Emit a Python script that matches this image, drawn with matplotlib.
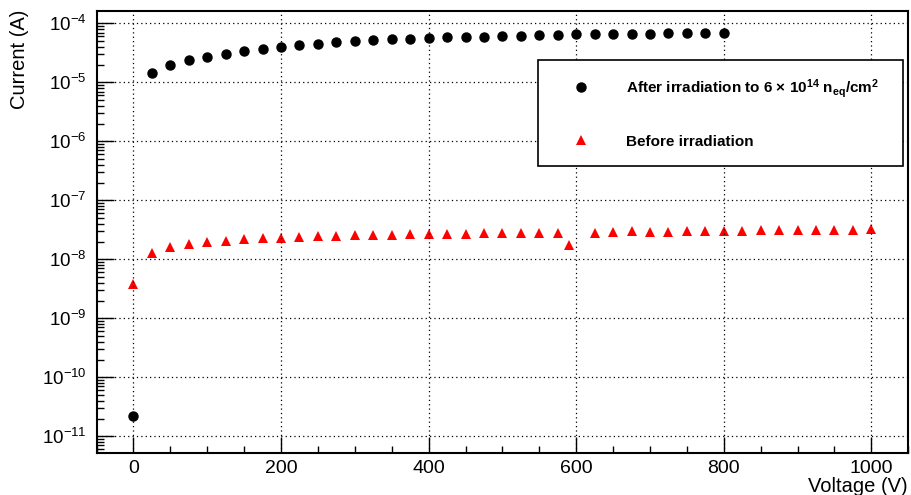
import matplotlib
matplotlib.use("Agg")
import matplotlib.pyplot as plt
from matplotlib.ticker import LogLocator, MultipleLocator, NullFormatter

plt.rcParams['font.family'] = ['Liberation Sans', 'DejaVu Sans']
plt.rcParams['mathtext.default'] = 'regular'
plt.rcParams['axes.unicode_minus'] = True

# After irradiation (black circles)
v_after = [0, 25, 50, 75, 100, 125, 150, 175, 200, 225, 250, 275, 300, 325, 350,
           375, 400, 425, 450, 475, 500, 525, 550, 575, 600, 625, 650, 675, 700,
           725, 750, 775, 800]
i_after = [2.2e-11, 1.42e-5, 1.96e-5, 2.36e-5, 2.69e-5, 3.05e-5, 3.35e-5, 3.67e-5,
           3.96e-5, 4.29e-5, 4.46e-5, 4.76e-5, 5.0e-5, 5.14e-5, 5.36e-5, 5.5e-5,
           5.63e-5, 5.79e-5, 5.86e-5, 5.93e-5, 6.1e-5, 6.2e-5, 6.3e-5, 6.4e-5,
           6.5e-5, 6.55e-5, 6.6e-5, 6.65e-5, 6.7e-5, 6.75e-5, 6.8e-5, 6.9e-5, 7.0e-5]

# Before irradiation (red triangles)
v_before = [0, 25, 50, 75, 100, 125, 150, 175, 200, 225, 250, 275, 300, 325, 350,
            375, 400, 425, 450, 475, 500, 525, 550, 575, 590, 625, 650, 675, 700,
            725, 750, 775, 800, 825, 850, 875, 900, 925, 950, 975, 1000]
i_before = [3.8e-9, 1.29e-8, 1.6e-8, 1.79e-8, 1.94e-8, 2.07e-8, 2.2e-8, 2.27e-8,
            2.32e-8, 2.42e-8, 2.48e-8, 2.52e-8, 2.55e-8, 2.58e-8, 2.62e-8, 2.65e-8,
            2.7e-8, 2.7e-8, 2.73e-8, 2.76e-8, 2.77e-8, 2.78e-8, 2.8e-8, 2.82e-8,
            1.75e-8, 2.83e-8, 2.9e-8, 3.05e-8, 2.9e-8, 2.94e-8, 2.98e-8, 3.01e-8,
            3.05e-8, 3.05e-8, 3.09e-8, 3.09e-8, 3.13e-8, 3.13e-8, 3.18e-8, 3.18e-8,
            3.26e-8]

label_after = "After irradiation to 6 \u00d7 10$^{14}$ n$_{eq}$/cm$^{2}$"
label_before = "Before irradiation"

fig = plt.figure(figsize=(9.11, 4.95), dpi=100)
ax = fig.add_axes([0.106, 0.0858, 0.891, 0.892])

ax.plot(v_after, i_after, linestyle='none', marker='o', color='black',
        markersize=6.5, label=label_after)
ax.plot(v_before, i_before, linestyle='none', marker='^', color='red',
        markersize=6.5, markeredgewidth=0, label=label_before)

ax.set_yscale('log')
ax.set_xlim(-50, 1050)
ax.set_ylim(10**-11.275, 10**-3.79)

ax.xaxis.set_major_locator(MultipleLocator(200))
ax.xaxis.set_minor_locator(MultipleLocator(50))
ax.yaxis.set_major_locator(LogLocator(base=10, numticks=20))
ax.yaxis.set_minor_locator(LogLocator(base=10, subs=range(2, 10), numticks=20))
ax.yaxis.set_minor_formatter(NullFormatter())

ax.tick_params(axis='both', which='both', direction='in', top=False, right=False,
               color='black')
ax.tick_params(axis='x', which='major', length=11.5, width=1, pad=5.5, labelsize=14)
ax.tick_params(axis='x', which='minor', length=5, width=1)
ax.tick_params(axis='y', which='major', length=12, width=1, pad=7, labelsize=13.5)
ax.tick_params(axis='y', which='minor', length=5, width=1)

for s in ax.spines.values():
    s.set_linewidth(1.5)
    s.set_color('black')

ax.grid(True, which='major', color='black', linestyle=(0, (1, 2.5)), linewidth=0.9)
ax.set_axisbelow(False)
ax.xaxis.label.set_visible(False)
ax.yaxis.label.set_visible(False)
ax.xaxis.get_offset_text().set_visible(False)
ax.yaxis.get_offset_text().set_visible(False)

leg = ax.legend(loc='upper left', bbox_to_anchor=(0.544, 0.651, 0.449, 0.238),
                mode='expand', borderaxespad=0, numpoints=1, fancybox=False,
                framealpha=1, edgecolor='black', prop={'weight': 'bold', 'size': 11},
                handlelength=3.4, handletextpad=1.25, borderpad=1.1,
                labelspacing=2.3)
leg.get_frame().set_linewidth(1.2)

fig.text(20 / 911, 1 - 10 / 495, "Current (A)", rotation=90, ha='center',
         va='top', fontsize=14.5)
fig.text(908 / 911, 1 - 492 / 495, "Voltage (V)", ha='right', va='baseline',
         fontsize=14.5)

fig.savefig("out.png", dpi=100)
